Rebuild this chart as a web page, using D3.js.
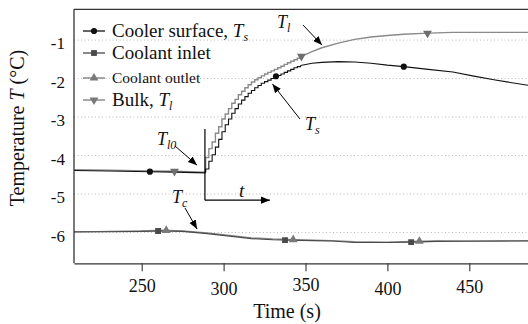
<!DOCTYPE html>
<html>
<head>
<meta charset="utf-8">
<script src="https://cdn.jsdelivr.net/npm/d3@7"></script>
<style>
  body { margin: 0; background: #fff; }
  svg text { font-family: "Liberation Serif", "Times New Roman", serif; fill: #111; }
</style>
</head>
<body>
<svg id="chart" width="528" height="324"></svg>
<script>
// values (time in s, temperature in degC)
const xTicks = [250, 300, 350, 400, 450];
const yTicks = [-1, -2, -3, -4, -5, -6];

// before the step
const preTime    = [208, 230, 255, 270, 289];
const bulkPre    = [-4.37, -4.38, -4.40, -4.41, -4.43];
const surfacePre = [-4.39, -4.40, -4.42, -4.43, -4.45];

// staircase rise just after the step
const riseTime = [289, 291, 293, 295, 297, 299, 301, 303, 305, 307, 309, 311, 313, 315, 317,
                  319, 321, 323, 325, 327, 329, 331, 333, 335, 337, 339, 341, 343, 345, 347];
const bulkRise = [-4.05, -3.82, -3.65, -3.42, -3.25, -3.05, -2.92, -2.78, -2.64, -2.54, -2.42, -2.33, -2.24, -2.16, -2.09,
                  -2.03, -1.98, -1.93, -1.88, -1.84, -1.80, -1.76, -1.72, -1.68, -1.63, -1.59, -1.55, -1.51, -1.47, -1.43];
const surfaceRise = [-4.35, -4.15, -3.98, -3.78, -3.58, -3.38, -3.20, -3.05, -2.90, -2.78, -2.66, -2.56, -2.47, -2.38, -2.31,
                     -2.24, -2.18, -2.12, -2.08, -2.04, -2.00, -1.96, -1.92, -1.88, -1.84, -1.80, -1.76, -1.72, -1.69, -1.66];

// slow tail
const tailTime    = [347, 354, 360, 370, 380, 390, 400, 410, 425, 440, 452, 465, 475, 490];
const bulkTail    = [-1.43, -1.30, -1.20, -1.08, -0.98, -0.92, -0.88, -0.85, -0.82, -0.80, -0.80, -0.80, -0.80, -0.80];
const surfaceTail = [-1.66, -1.60, -1.58, -1.56, -1.57, -1.60, -1.65, -1.69, -1.76, -1.83, -1.93, -2.03, -2.10, -2.20];

// coolant
const coolTime   = [208, 230, 250, 262, 275, 290, 305, 317, 330, 340, 355, 366, 380, 400, 415, 430, 450, 470, 490];
const inletTemp  = [-5.98, -5.98, -5.97, -5.96, -5.97, -6.03, -6.10, -6.16, -6.19, -6.20, -6.21, -6.22, -6.26, -6.26, -6.25, -6.23, -6.22, -6.22, -6.22];
const outletTemp = [-5.99, -5.97, -5.96, -5.94, -5.96, -6.01, -6.08, -6.14, -6.17, -6.18, -6.20, -6.21, -6.24, -6.25, -6.23, -6.22, -6.23, -6.22, -6.21];

// where the markers sit along each curve
const surfaceMarks = [255, 332, 410];
const inletMarks   = [260, 337.5, 414.5];
const outletMarks  = [265, 342.5, 419.5];
const bulkMarks    = [270, 347.5, 424.5];

// ---- layout ----
const svg = d3.select('#chart');
const mLeft = 74, mTop = 9.3, mBottom = 263.3, mRight = 534;
const serif = '"Liberation Serif", "Times New Roman", serif';

const x = d3.scaleLinear().domain([208.67, 489.5]).range([mLeft, mRight]);
const y = d3.scaleLinear().domain([-6.8, -0.2]).range([mBottom, mTop]);

const zip = (ts, vs) => ts.map((t, i) => [t, vs[i]]);

// linear lookup so markers land on the curves
function valueAt(pts, t) {
  for (let i = 1; i < pts.length; i++) {
    if (pts[i][0] >= t) {
      const a = pts[i - 1], b = pts[i];
      const f = (t - a[0]) / ((b[0] - a[0]) || 1);
      return a[1] + f * (b[1] - a[1]);
    }
  }
  return pts[pts.length - 1][1];
}

const defs = svg.append('defs');
defs.append('clipPath').attr('id', 'plot')
  .append('rect').attr('x', mLeft).attr('y', mTop).attr('width', mRight - mLeft).attr('height', mBottom - mTop);
defs.append('marker')
    .attr('id', 'head')
    .attr('viewBox', '0 0 10 10')
    .attr('refX', 10).attr('refY', 5)
    .attr('markerWidth', 9).attr('markerHeight', 9)
    .attr('markerUnits', 'userSpaceOnUse')
    .attr('orient', 'auto')
  .append('path').attr('d', 'M0,1 L10,5 L0,9 Z').attr('fill', '#000');

// dotted grid
svg.append('g').selectAll('line')
  .data(yTicks)
  .enter().append('line')
    .attr('x1', mLeft).attr('x2', mRight)
    .attr('y1', d => y(d)).attr('y2', d => y(d))
    .attr('stroke', '#bbb').attr('stroke-width', 1)
    .attr('stroke-dasharray', '1,2.5');

const plot = svg.append('g').attr('clip-path', 'url(#plot)');
const lineFn = d3.line().x(d => x(d[0])).y(d => y(d[1]));
const stepFn = d3.line().x(d => x(d[0])).y(d => y(d[1])).curve(d3.curveStepAfter);

function drawMarks(pts, times, shape, color, rot) {
  plot.selectAll(null)
    .data(times)
    .enter().append('path')
      .attr('d', d3.symbol().type(shape).size(shape === d3.symbolCircle ? 30 : 34))
      .attr('transform', t => `translate(${x(t)},${y(valueAt(pts, t))}) rotate(${rot || 0})`)
      .attr('fill', color);
}

// coolant lines
const inletPts = zip(coolTime, inletTemp);
const outletPts = zip(coolTime, outletTemp);
plot.append('path').attr('d', lineFn(outletPts)).attr('fill', 'none').attr('stroke', '#8a8a8a').attr('stroke-width', 1.4);
plot.append('path').attr('d', lineFn(inletPts)).attr('fill', 'none').attr('stroke', '#4a4a4a').attr('stroke-width', 1.1);

// bulk and surface: linear before, stair in the rise, linear in the tail
function drawRising(pre, rise, tail, color, width) {
  const riseFull = [pre[pre.length - 1]].concat(rise);
  plot.append('path').attr('d', lineFn(pre)).attr('fill', 'none').attr('stroke', color).attr('stroke-width', width);
  plot.append('path').attr('d', stepFn(riseFull)).attr('fill', 'none').attr('stroke', color).attr('stroke-width', width);
  plot.append('path').attr('d', lineFn(tail)).attr('fill', 'none').attr('stroke', color).attr('stroke-width', width);
  return pre.concat(rise, tail.slice(1));
}
const bulkPts = drawRising(zip(preTime, bulkPre), zip(riseTime, bulkRise), zip(tailTime, bulkTail), '#8a8a8a', 1.4);
const surfacePts = drawRising(zip(preTime, surfacePre), zip(riseTime, surfaceRise), zip(tailTime, surfaceTail), '#111', 1.1);

drawMarks(inletPts, inletMarks, d3.symbolSquare, '#4a4a4a');
drawMarks(outletPts, outletMarks, d3.symbolTriangle, '#7a7a7a');
drawMarks(bulkPts, bulkMarks, d3.symbolTriangle, '#6e6e6e', 180);
drawMarks(surfacePts, surfaceMarks, d3.symbolCircle, '#111');

// frame
svg.append('line').attr('x1', mLeft).attr('x2', mRight).attr('y1', mTop).attr('y2', mTop).attr('stroke', '#333').attr('stroke-width', 1.3);
svg.append('line').attr('x1', mLeft).attr('x2', mLeft).attr('y1', mTop).attr('y2', mBottom).attr('stroke', '#333').attr('stroke-width', 1.3);

// x axis
const xAxis = svg.append('g')
  .attr('transform', `translate(0,${mBottom})`)
  .call(d3.axisBottom(x).tickValues(xTicks).tickSize(8).tickSizeOuter(0).tickPadding(8))
  .attr('font-family', serif).attr('font-size', 18);
xAxis.select('.domain').attr('stroke', '#333').attr('stroke-width', 1.3);
xAxis.selectAll('.tick line').attr('stroke', '#333').attr('stroke-width', 1.1);
const labelShift = [0, 3, -1, 3, 1];
xAxis.selectAll('.tick text')
  .attr('fill', '#111')
  .style('font-family', serif)
  .attr('dy', (d, i) => (0.71 * 18 + labelShift[i]) + 'px');

// y axis labels only
const yAxis = svg.append('g')
  .attr('transform', `translate(${mLeft},0)`)
  .call(d3.axisLeft(y).tickValues(yTicks).tickSize(0).tickPadding(9).tickFormat(d => '-' + Math.abs(d)))
  .attr('font-family', serif).attr('font-size', 17);
yAxis.select('.domain').remove();
yAxis.selectAll('.tick text').attr('fill', '#111').style('font-family', serif).attr('dy', '0.5em');

// axis titles
svg.append('text')
  .attr('x', 287).attr('y', 318)
  .attr('text-anchor', 'middle').attr('font-size', 20)
  .text('Time (s)');
const yTitle = svg.append('text')
  .attr('transform', 'translate(24,128) rotate(-90)')
  .attr('text-anchor', 'middle').attr('font-size', 20);
yTitle.append('tspan').text('Temperature ');
yTitle.append('tspan').attr('font-style', 'italic').text('T');
yTitle.append('tspan').text(' (°C)');

// legend
const legendItems = [
  { label: 'Cooler surface, ', sym: 'T', sub: 's', color: '#111', shape: d3.symbolCircle, size: 19 },
  { label: 'Coolant inlet', color: '#4a4a4a', shape: d3.symbolSquare, size: 19 },
  { label: 'Coolant outlet', color: '#7a7a7a', shape: d3.symbolTriangle, size: 15.5 },
  { label: 'Bulk, ', sym: 'T', sub: 'l', color: '#7a7a7a', shape: d3.symbolTriangle, rot: 180, size: 19 }
];
const rowY = [31, 53, 78, 100];
const legend = svg.append('g')
  .selectAll('g')
  .data(legendItems)
  .enter().append('g')
    .attr('transform', (d, i) => `translate(83,${rowY[i]})`);
legend.append('line').attr('x1', 0).attr('x2', 22).attr('stroke', d => d.color).attr('stroke-width', 1.3);
legend.append('path')
  .attr('d', d => d3.symbol().type(d.shape).size(d.shape === d3.symbolCircle ? 30 : 34)())
  .attr('transform', d => `translate(11,0) rotate(${d.rot || 0})`)
  .attr('fill', d => d.color);
const legendText = legend.append('text')
  .attr('x', 29).attr('y', d => d.size * 0.33)
  .attr('font-size', d => d.size);
legendText.append('tspan').text(d => d.label);
legendText.filter(d => d.sym).append('tspan').attr('font-style', 'italic').text(d => d.sym);
legendText.filter(d => d.sub).append('tspan').attr('font-style', 'italic').attr('font-size', 12).attr('dy', 4).text(d => d.sub);

// annotations (in data units)
const notes = [
  { t: 332.6, v: -0.69, sub: 'l',  from: [348.5, -0.61], to: [360.1, -1.13] },
  { t: 349.7, v: -3.34, sub: 's',  from: [346.6, -3.05], to: [329.8, -2.14] },
  { t: 259.3, v: -3.73, sub: 'l0', from: [270.3, -3.75], to: [283.8, -4.25] },
  { t: 268.5, v: -5.23, sub: 'c',  from: [276.4, -5.36], to: [283.8, -5.91] }
];
notes.forEach(n => {
  const txt = svg.append('text').attr('x', x(n.t)).attr('y', y(n.v)).attr('font-size', 18).attr('font-style', 'italic');
  txt.append('tspan').text('T');
  txt.append('tspan').attr('font-size', 12).attr('dy', 4).text(n.sub);
  svg.append('line')
    .attr('x1', x(n.from[0])).attr('y1', y(n.from[1]))
    .attr('x2', x(n.to[0])).attr('y2', y(n.to[1]))
    .attr('stroke', '#000').attr('stroke-width', 1)
    .attr('marker-end', 'url(#head)');
});

// time axis sketch at the step
svg.append('line')
  .attr('x1', x(288.6)).attr('x2', x(288.6)).attr('y1', y(-3.31)).attr('y2', y(-5.16))
  .attr('stroke', '#000').attr('stroke-width', 1.2);
svg.append('line')
  .attr('x1', x(288.6)).attr('x2', x(328.3)).attr('y1', y(-5.16)).attr('y2', y(-5.16))
  .attr('stroke', '#000').attr('stroke-width', 1.2)
  .attr('marker-end', 'url(#head)');
svg.append('text')
  .attr('x', x(309.4)).attr('y', y(-5.08))
  .attr('font-size', 19).attr('font-style', 'italic')
  .text('t');
</script>
</body>
</html>
